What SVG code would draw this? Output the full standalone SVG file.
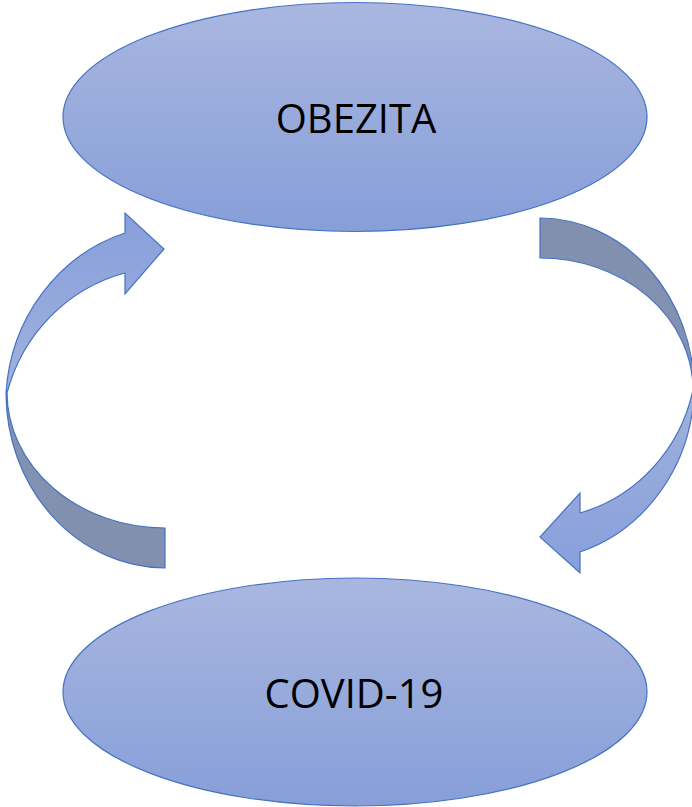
<svg xmlns="http://www.w3.org/2000/svg" width="692" height="807" viewBox="0 0 692 807">
<defs>
<linearGradient id="ell" x1="0" y1="0" x2="0" y2="1">
<stop offset="0" stop-color="#A9B7E0"/>
<stop offset="1" stop-color="#879ED8"/>
</linearGradient>
<linearGradient id="la" gradientUnits="userSpaceOnUse" x1="0" y1="213" x2="0" y2="568">
<stop offset="0" stop-color="#889FDB"/>
<stop offset="0.507" stop-color="#A0B1DC"/>
<stop offset="0.507" stop-color="#8492B2"/>
<stop offset="1" stop-color="#8290B0"/>
</linearGradient>
<linearGradient id="ra" gradientUnits="userSpaceOnUse" x1="0" y1="218" x2="0" y2="573">
<stop offset="0" stop-color="#8290B0"/>
<stop offset="0.485" stop-color="#8492B2"/>
<stop offset="0.485" stop-color="#A0B1DC"/>
<stop offset="1" stop-color="#889FDB"/>
</linearGradient>
<style>
.node{fill:url(#ell);stroke:#4472C4;stroke-width:1.2}
.lbl{font-family:"Open Sans","Liberation Sans",Arial,sans-serif;font-size:40px;fill:#000;text-anchor:middle}
.arr{stroke:#4472C4;stroke-width:1.2;stroke-linejoin:miter}
</style>
</defs>
<g id="connectors">
<path id="left-arrow" class="arr" fill="url(#la)" d="M165,568 A160,175 0 0 1 6,393 A170,180 0 0 1 125,233 L125,213 L164,249 L125,294 L125,273 A165,170 0 0 0 7,393 A158,136 0 0 0 165,528 Z"/>
<path id="right-arrow" class="arr" fill="url(#ra)" d="M540,218 A155,172 0 0 1 694,390 A165,175 0 0 1 580,552 L580,573 L540,537 L580,493 L580,513 A160,165 0 0 0 693,390 A153,132 0 0 0 540,258 Z"/>
</g>
<g id="node-obezita">
<ellipse class="node" cx="355" cy="117" rx="292" ry="114.5"/>
<text class="lbl" x="356" y="133">OBEZITA</text>
</g>
<g id="node-covid">
<ellipse class="node" cx="355" cy="692" rx="292" ry="114"/>
<text class="lbl" x="354" y="708">COVID-19</text>
</g>
</svg>
